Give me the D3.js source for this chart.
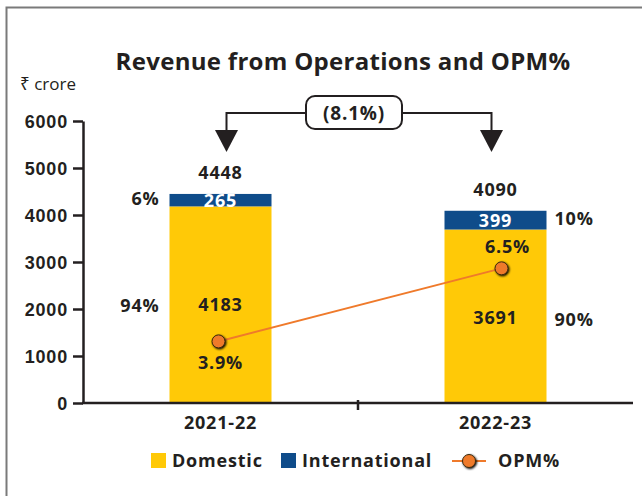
<!DOCTYPE html>
<html>
<head>
<meta charset="utf-8">
<script src="https://cdn.jsdelivr.net/npm/d3@7"></script>
<style>
    body { margin: 0; background: #fff; }
    svg { font-family: "Open Sans", "Noto Sans", sans-serif; }
    .axis text { font-size: 18px; font-weight: 700; fill: #231f20; letter-spacing: 0.8px; }
    .axis path, .axis line { stroke: #231f20; stroke-width: 2.5; }
</style>
</head>
<body>
<div id="chart"></div>
<script>
// data
let years = ["2021-22", "2022-23"];
let domestic = [4183, 3691];
let international = [265, 399];
let totals = [4448, 4090];
let domesticShare = ["94%", "90%"];
let internationalShare = ["6%", "10%"];
let opm = [3.9, 6.5];
let yTicks = [0, 1000, 2000, 3000, 4000, 5000, 6000];
let change = "(8.1%)";

let width = 642, height = 496;
let ink = "#231f20", yellow = "#ffc907", blue = "#0f4c8a", orange = "#ef7a2b";
let fs = 18, ls = "0.8px";

let svg = d3.select("#chart").append("svg")
    .attr("width", width)
    .attr("height", height);

// frame (left and top edges only visible)
svg.append("path")
    .attr("d", "M6.5,496 V7.5 H642")
    .attr("fill", "none")
    .attr("stroke", "#7a7a7a")
    .attr("stroke-width", 2);

// scales
let x = d3.scaleBand().domain(years).range([83, 633]);
let y = d3.scaleLinear().domain([0, 6000]).range([403, 121]);
let y2 = d3.scaleLinear().domain([0, 10]).range([451, 170]);
let barW = 102;
let cx = d => x(d) + x.bandwidth() / 2;

// title
svg.append("text")
    .attr("x", 343).attr("y", 70)
    .attr("text-anchor", "middle")
    .attr("font-size", 24).attr("font-weight", 700)
    .attr("letter-spacing", "0.3px")
    .attr("fill", ink)
    .text("Revenue from Operations and OPM%");

svg.append("text")
    .attr("x", 20).attr("y", 90)
    .attr("font-size", 17)
    .attr("fill", ink)
    .text("₹ crore");

// y axis
svg.append("g")
    .attr("class", "axis")
    .attr("transform", "translate(83,0)")
    .call(d3.axisLeft(y).tickValues(yTicks).tickSize(10).tickSizeOuter(0).tickPadding(5).tickFormat(d3.format("d")))
    .selectAll("text").attr("dy", "0.36em");

// stacked bars
let stack = years.map((yr, i) => ({ year: yr, dom: domestic[i], intl: international[i] }));

svg.selectAll(".bar-dom")
    .data(stack)
    .enter().append("rect")
    .attr("class", "bar-dom")
    .attr("x", d => cx(d.year) - barW / 2)
    .attr("y", d => y(d.dom))
    .attr("width", barW)
    .attr("height", d => y(0) - y(d.dom))
    .attr("fill", yellow);

svg.selectAll(".bar-intl")
    .data(stack)
    .enter().append("rect")
    .attr("class", "bar-intl")
    .attr("x", d => cx(d.year) - barW / 2)
    .attr("y", d => y(d.dom + d.intl))
    .attr("width", barW)
    .attr("height", d => y(d.dom) - y(d.dom + d.intl))
    .attr("fill", blue);

// x axis
let xAxis = svg.append("g").attr("class", "axis");
xAxis.append("line")
    .attr("x1", 82).attr("x2", 633)
    .attr("y1", y(0)).attr("y2", y(0));
xAxis.append("line")
    .attr("x1", x(years[1])).attr("x2", x(years[1]))
    .attr("y1", y(0) - 3).attr("y2", y(0) + 7);
xAxis.selectAll(".xlab")
    .data(years)
    .enter().append("text")
    .attr("x", d => cx(d))
    .attr("y", 429)
    .attr("text-anchor", "middle")
    .text(d => d);

// bar labels
let label = (sel, cls) => sel.selectAll("." + cls).data(stack).enter().append("text")
    .attr("class", cls)
    .attr("font-size", fs)
    .attr("letter-spacing", ls)
    .attr("font-weight", 700)
    .attr("fill", ink);

label(svg, "lab-total")
    .attr("x", d => cx(d.year))
    .attr("y", (d, i) => y(totals[i]) - 15)
    .attr("text-anchor", "middle")
    .text((d, i) => totals[i]);

label(svg, "lab-intl")
    .attr("x", d => cx(d.year))
    .attr("y", d => (y(d.dom) + y(d.dom + d.intl)) / 2)
    .attr("dy", "0.36em")
    .attr("text-anchor", "middle")
    .attr("fill", "#fff")
    .text(d => d.intl);

label(svg, "lab-dom")
    .attr("x", d => cx(d.year))
    .attr("y", (d, i) => i === 0 ? 305 : 318)
    .attr("dy", "0.36em")
    .attr("text-anchor", "middle")
    .text(d => d.dom);

// shares: left of first bar, right of second
let shareX = (d, i) => i === 0 ? cx(d.year) - barW / 2 - 10 : cx(d.year) + barW / 2 + 8;
label(svg, "lab-ishare")
    .attr("x", shareX)
    .attr("y", d => y(d.dom + d.intl / 2) - 2)
    .attr("dy", "0.36em")
    .attr("text-anchor", (d, i) => i === 0 ? "end" : "start")
    .text((d, i) => internationalShare[i]);

label(svg, "lab-dshare")
    .attr("x", shareX)
    .attr("y", (d, i) => i === 0 ? 306 : 320)
    .attr("dy", "0.36em")
    .attr("text-anchor", (d, i) => i === 0 ? "end" : "start")
    .text((d, i) => domesticShare[i]);

// OPM line
let defs = svg.append("defs");
let glow = defs.append("filter").attr("id", "glow").attr("x", "-50%").attr("y", "-50%").attr("width", "200%").attr("height", "200%");
glow.append("feGaussianBlur").attr("in", "SourceAlpha").attr("stdDeviation", 1.3).attr("result", "b");
glow.append("feOffset").attr("in", "b").attr("dx", 1).attr("dy", 1).attr("result", "o");
let merge = glow.append("feMerge");
merge.append("feMergeNode").attr("in", "o");
merge.append("feMergeNode").attr("in", "SourceGraphic");

let opmData = years.map((yr, i) => ({ year: yr, v: opm[i] }));
let opmX = (d, i) => cx(d.year) + (i === 0 ? -2 : 6);
svg.append("path")
    .datum(opmData)
    .attr("fill", "none")
    .attr("stroke", orange)
    .attr("stroke-width", 2)
    .attr("d", d3.line().x(opmX).y(d => y2(d.v)));

svg.selectAll(".opm-dot")
    .data(opmData)
    .enter().append("circle")
    .attr("class", "opm-dot")
    .attr("cx", opmX)
    .attr("cy", d => y2(d.v))
    .attr("r", 6.5)
    .attr("fill", orange)
    .attr("stroke", "#3a2a10")
    .attr("stroke-width", 1)
    .attr("filter", "url(#glow)");

svg.selectAll(".opm-lab")
    .data(opmData)
    .enter().append("text")
    .attr("class", "opm-lab")
    .attr("x", (d, i) => cx(d.year) + (i === 0 ? 0 : 12))
    .attr("y", (d, i) => i === 0 ? y2(d.v) + 28 : y2(d.v) - 15)
    .attr("text-anchor", "middle")
    .attr("font-size", fs)
    .attr("letter-spacing", ls)
    .attr("font-weight", 700)
    .attr("fill", ink)
    .text(d => d.v + "%");

// change annotation
let ax1 = cx(years[0]) + 6, ax2 = cx(years[1]) - 4, ay = 113;
svg.append("path")
    .attr("d", `M${ax1},132 V${ay} H${ax2} V132`)
    .attr("fill", "none")
    .attr("stroke", ink)
    .attr("stroke-width", 2);
svg.selectAll(".arrow")
    .data([ax1, ax2])
    .enter().append("path")
    .attr("d", d => `M${d - 11.5},130 L${d + 11.5},130 L${d},152 Z`)
    .attr("fill", ink);
svg.append("rect")
    .attr("x", 306).attr("y", 96)
    .attr("width", 96).attr("height", 33)
    .attr("rx", 9)
    .attr("fill", "#fff")
    .attr("stroke", ink)
    .attr("stroke-width", 2);
svg.append("text")
    .attr("x", 354).attr("y", 113)
    .attr("dy", "0.36em")
    .attr("text-anchor", "middle")
    .attr("font-size", 19)
    .attr("letter-spacing", ls)
    .attr("font-weight", 700)
    .attr("fill", ink)
    .text(change);

// legend
let legend = svg.append("g").attr("font-size", fs).attr("letter-spacing", ls).attr("font-weight", 700).attr("fill", ink);
legend.append("rect").attr("x", 151).attr("y", 453).attr("width", 15).attr("height", 15).attr("fill", yellow);
legend.append("text").attr("x", 172).attr("y", 461).attr("dy", "0.36em").text("Domestic");
legend.append("rect").attr("x", 281).attr("y", 453).attr("width", 15).attr("height", 15).attr("fill", blue);
legend.append("text").attr("x", 302).attr("y", 461).attr("dy", "0.36em").text("International");
legend.append("line").attr("x1", 452).attr("x2", 486).attr("y1", 461).attr("y2", 461).attr("stroke", orange).attr("stroke-width", 2);
legend.append("circle").attr("cx", 469).attr("cy", 461).attr("r", 6.5).attr("fill", orange)
    .attr("stroke", "#3a2a10").attr("stroke-width", 1).attr("filter", "url(#glow)");
legend.append("text").attr("x", 498).attr("y", 461).attr("dy", "0.36em").text("OPM%");
</script>
</body>
</html>
